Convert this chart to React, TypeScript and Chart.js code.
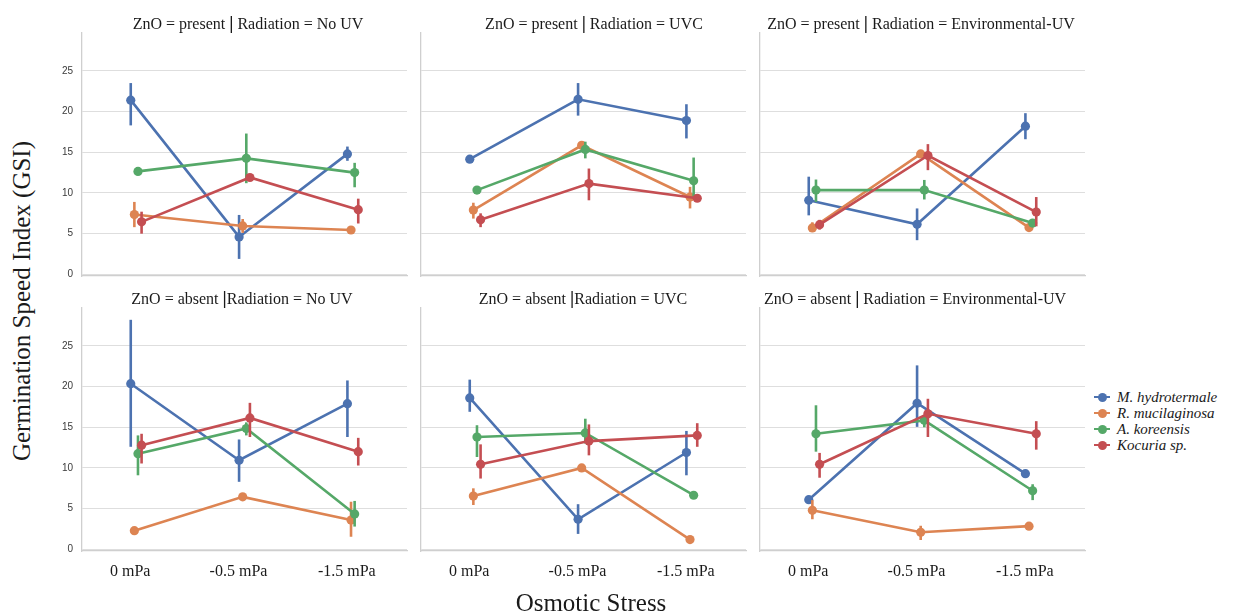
import React, { useEffect, useRef } from "react";
import { Chart, registerables } from "chart.js";

Chart.register(...registerables);

// ---- data ---------------------------------------------------------------
const STRAINS = ["M. hydrotermale", "R. mucilaginosa", "A. koreensis", "Kocuria sp."];
const STRAIN_COLORS = ["#4C72B0", "#DD8452", "#55A868", "#C44E52"];
const STRESS_LEVELS = ["0 mPa", "-0.5 mPa", "-1.5 mPa"];
const Y_TICKS = [0, 5, 10, 15, 20, 25];

// mean GSI per strain (rows) and osmotic stress level (columns), plus CI bounds
const PRESENT_NOUV_MEAN = [[21.4, 4.6, 14.8], [7.35, 5.95, 5.45], [12.65, 14.25, 12.5], [6.45, 11.9, 7.95]];
const PRESENT_NOUV_LO = [[18.3, 1.9, 13.95], [5.8, 5.1, 5.2], [12.4, 11.2, 10.7], [5.0, 11.6, 6.25]];
const PRESENT_NOUV_HI = [[23.5, 7.3, 15.7], [8.9, 6.8, 5.7], [12.9, 17.3, 13.7], [7.7, 12.2, 9.3]];

const PRESENT_UVC_MEAN = [[14.15, 21.5, 18.9], [7.9, 15.85, 9.5], [10.35, 15.35, 11.5], [6.7, 11.15, 9.35]];
const PRESENT_UVC_LO = [[13.9, 19.5, 16.7], [6.85, 15.6, 8.1], [10.1, 14.25, 9.45], [5.8, 9.1, 9.1]];
const PRESENT_UVC_HI = [[14.4, 23.5, 20.9], [8.8, 16.1, 10.75], [10.6, 16.3, 14.35], [7.5, 13.0, 9.6]];

const PRESENT_ENV_MEAN = [[9.1, 6.15, 18.2], [5.7, 14.8, 5.75], [10.35, 10.35, 6.3], [6.1, 14.6, 7.65]];
const PRESENT_ENV_LO = [[7.25, 4.2, 16.6], [5.2, 14.5, 5.5], [8.9, 9.2, 6.0], [5.5, 12.8, 5.9]];
const PRESENT_ENV_HI = [[12.0, 8.1, 19.8], [6.4, 15.1, 6.0], [11.65, 11.6, 6.6], [6.7, 16.0, 9.5]];

const ABSENT_NOUV_MEAN = [[20.35, 10.95, 17.9], [2.3, 6.45, 3.6], [11.75, 14.85, 4.35], [12.8, 16.15, 12.0]];
const ABSENT_NOUV_LO = [[12.6, 8.3, 13.8], [1.9, 6.1, 1.55], [9.1, 14.0, 2.8], [10.55, 13.8, 10.3]];
const ABSENT_NOUV_HI = [[28.2, 13.5, 20.75], [2.7, 6.8, 5.85], [14.0, 15.6, 5.95], [14.2, 18.0, 13.7]];

const ABSENT_UVC_MEAN = [[18.6, 3.7, 11.9], [6.55, 10.0, 1.2], [13.8, 14.3, 6.65], [10.45, 13.3, 14.0]];
const ABSENT_UVC_LO = [[16.9, 1.9, 9.1], [5.45, 9.8, 1.0], [11.35, 13.0, 6.4], [8.7, 11.55, 12.6]];
const ABSENT_UVC_HI = [[20.85, 5.55, 14.55], [7.5, 10.2, 1.4], [15.25, 16.05, 6.9], [12.9, 15.35, 15.5]];

const ABSENT_ENV_MEAN = [[6.1, 17.95, 9.3], [4.8, 2.1, 2.85], [14.2, 15.85, 7.2], [10.45, 16.65, 14.2]];
const ABSENT_ENV_LO = [[5.9, 15.05, 9.1], [3.7, 1.15, 2.6], [12.0, 15.0, 6.05], [8.8, 13.8, 12.25]];
const ABSENT_ENV_HI = [[6.3, 22.6, 9.5], [6.05, 2.9, 3.1], [17.7, 16.45, 8.0], [11.85, 18.5, 15.75]];

const PANELS = [
  { row: 0, col: 0, zno: "ZnO = present ", rad: " Radiation = No UV", mean: PRESENT_NOUV_MEAN, lo: PRESENT_NOUV_LO, hi: PRESENT_NOUV_HI },
  { row: 0, col: 1, zno: "ZnO = present ", rad: " Radiation = UVC", mean: PRESENT_UVC_MEAN, lo: PRESENT_UVC_LO, hi: PRESENT_UVC_HI },
  { row: 0, col: 2, zno: "ZnO = present ", rad: " Radiation = Environmental-UV", mean: PRESENT_ENV_MEAN, lo: PRESENT_ENV_LO, hi: PRESENT_ENV_HI },
  { row: 1, col: 0, zno: "ZnO = absent ", rad: "Radiation = No UV", mean: ABSENT_NOUV_MEAN, lo: ABSENT_NOUV_LO, hi: ABSENT_NOUV_HI },
  { row: 1, col: 1, zno: "ZnO = absent ", rad: "Radiation = UVC", mean: ABSENT_UVC_MEAN, lo: ABSENT_UVC_LO, hi: ABSENT_UVC_HI },
  { row: 1, col: 2, zno: "ZnO = absent ", rad: " Radiation = Environmental-UV", mean: ABSENT_ENV_MEAN, lo: ABSENT_ENV_LO, hi: ABSENT_ENV_HI },
];

// ---- layout -------------------------------------------------------------
const PLOT_LEFT = [82, 421, 760];
const PLOT_TOP = [33, 308];
const PLOT_W = 325;
const PLOT_H = 243;
const AXIS_W = 40;
const AXIS_H = 40;
const PAD_TOP = 6;
const PAD_RIGHT = 6;
const TITLE_CENTER = [[248, 594, 921], [242, 583, 915]];
const TITLE_TOP = [14.5, 290];
const DODGE = [-0.05, -0.0167, 0.0167, 0.05];

const SERIF = "'Liberation Serif', 'Times New Roman', serif";
const SANS = "'Liberation Sans', Arial, sans-serif";
const GRID = "#dedede";
const SPINE = "#cfcfcf";

// vertical confidence-interval bars, drawn just beneath each strain's line
const errorBars = {
  id: "errorBars",
  beforeDatasetDraw(chart: any, args: any) {
    const ds = chart.data.datasets[args.index];
    const x = chart.scales.x;
    const y = chart.scales.y;
    const ctx = chart.ctx;
    ctx.save();
    ctx.strokeStyle = ds.borderColor;
    ctx.lineWidth = 2.6;
    ds.data.forEach((p: any, i: number) => {
      const px = x.getPixelForValue(p.x);
      ctx.beginPath();
      ctx.moveTo(px, y.getPixelForValue(ds.lo[i]));
      ctx.lineTo(px, y.getPixelForValue(ds.hi[i]));
      ctx.stroke();
    });
    ctx.restore();
  },
};

function Panel({ panel }: { panel: (typeof PANELS)[number] }) {
  const ref = useRef<HTMLCanvasElement>(null);
  useEffect(() => {
    if (!ref.current) return;
    const chart = new Chart(ref.current, {
      type: "line",
      data: {
        datasets: STRAINS.map((name, s) => ({
          label: name,
          data: STRESS_LEVELS.map((_, i) => ({ x: i + DODGE[s], y: panel.mean[s][i] })),
          lo: panel.lo[s],
          hi: panel.hi[s],
          borderColor: STRAIN_COLORS[s],
          backgroundColor: STRAIN_COLORS[s],
          borderWidth: 2.6,
          pointRadius: 4.6,
          pointHoverRadius: 4.6,
          pointBorderWidth: 0,
          tension: 0,
          order: 3 - s,
        })) as any,
      },
      options: {
        responsive: false,
        maintainAspectRatio: false,
        animation: false,
        events: [],
        layout: { padding: { top: PAD_TOP, right: PAD_RIGHT, left: 0, bottom: 0 } },
        plugins: { legend: { display: false }, tooltip: { enabled: false } },
        scales: {
          x: {
            type: "linear",
            min: -0.5,
            max: 2.5,
            afterBuildTicks: (s: any) => {
              s.ticks = STRESS_LEVELS.map((_, i) => ({ value: i }));
            },
            afterFit: (s: any) => {
              s.height = AXIS_H;
              s.paddingLeft = 0;
              s.paddingRight = 0;
            },
            ticks: {
              display: panel.row === 1,
              callback: (v: any) => STRESS_LEVELS[v],
              font: { family: SERIF, size: 16 },
              color: "#1a1a1a",
              padding: 11,
              labelOffset: -6,
              autoSkip: false,
              maxRotation: 0,
            },
            grid: { color: "rgba(0,0,0,0)", drawTicks: false },
            border: { display: true, color: SPINE, width: 1.3 },
          },
          y: {
            min: -0.2,
            max: 29.65,
            afterBuildTicks: (s: any) => {
              s.ticks = Y_TICKS.map((v) => ({ value: v }));
            },
            afterFit: (s: any) => {
              s.width = AXIS_W;
              s.paddingTop = 0;
              s.paddingBottom = 0;
            },
            ticks: {
              display: panel.col === 0,
              font: { family: SANS, size: 10 },
              color: "#3a3a3a",
              padding: 9,
            },
            grid: { color: GRID, lineWidth: 1, drawTicks: false },
            border: { display: true, color: SPINE, width: 1.3 },
          },
        },
      } as any,
      plugins: [errorBars],
    });
    return () => chart.destroy();
  }, [panel]);

  const w = AXIS_W + PLOT_W + PAD_RIGHT;
  const h = PAD_TOP + PLOT_H + AXIS_H;
  return (
    <canvas
      ref={ref}
      width={w}
      height={h}
      style={{
        position: "absolute",
        left: PLOT_LEFT[panel.col] - AXIS_W,
        top: PLOT_TOP[panel.row] - PAD_TOP,
        width: w,
        height: h,
      }}
    />
  );
}

function PanelTitle({ panel }: { panel: (typeof PANELS)[number] }) {
  return (
    <div
      style={{
        position: "absolute",
        left: TITLE_CENTER[panel.row][panel.col] - 200,
        width: 400,
        top: TITLE_TOP[panel.row],
        textAlign: "center",
        fontFamily: SERIF,
        fontSize: 16,
        lineHeight: "16px",
        color: "#1a1a1a",
        whiteSpace: "pre",
      }}
    >
      {panel.zno}
      <span style={{ fontWeight: 700, fontSize: 19 }}>|</span>
      {panel.rad}
    </div>
  );
}

export default function App() {
  return (
    <div style={{ position: "absolute", left: 0, top: 0, width: 1238, height: 615, background: "#fff", overflow: "hidden" }}>
      {PANELS.map((p, i) => (
        <Panel key={i} panel={p} />
      ))}
      {PANELS.map((p, i) => (
        <PanelTitle key={"t" + i} panel={p} />
      ))}
      <div
        style={{
          position: "absolute",
          left: 22 - 200,
          top: 301 - 15,
          width: 400,
          height: 30,
          lineHeight: "30px",
          textAlign: "center",
          transform: "rotate(-90deg)",
          fontFamily: SERIF,
          fontSize: 25,
          color: "#1a1a1a",
          whiteSpace: "nowrap",
        }}
      >
        Germination Speed Index (GSI)
      </div>
      <div
        style={{
          position: "absolute",
          left: 591 - 150,
          width: 300,
          top: 588,
          lineHeight: "30px",
          textAlign: "center",
          fontFamily: SERIF,
          fontSize: 25,
          color: "#1a1a1a",
        }}
      >
        Osmotic Stress
      </div>
      <div style={{ position: "absolute", left: 1094, top: 389 }}>
        {STRAINS.map((name, s) => (
          <div key={name} style={{ display: "flex", alignItems: "center", height: 16 }}>
            <span style={{ position: "relative", display: "inline-block", width: 16, height: 16, marginRight: 7 }}>
              <span style={{ position: "absolute", left: 0, top: 7, width: 16, height: 2, background: STRAIN_COLORS[s] }} />
              <span style={{ position: "absolute", left: 3.5, top: 3.5, width: 9, height: 9, borderRadius: "50%", background: STRAIN_COLORS[s] }} />
            </span>
            <span style={{ fontFamily: SERIF, fontStyle: "italic", fontSize: 15, color: "#1a1a1a", whiteSpace: "nowrap" }}>{name}</span>
          </div>
        ))}
      </div>
    </div>
  );
}
